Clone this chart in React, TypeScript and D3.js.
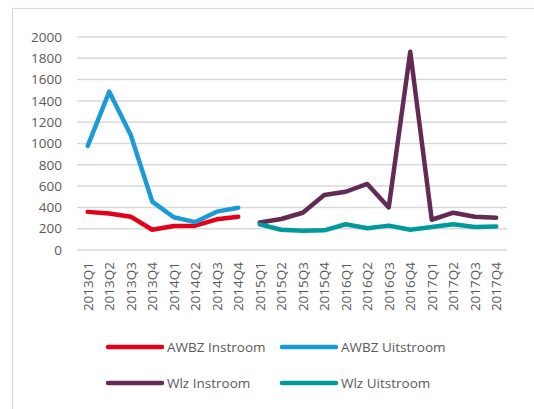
import React, { useEffect, useRef } from 'react';
import * as d3 from 'd3';

const quarters = [
  '2013Q1', '2013Q2', '2013Q3', '2013Q4',
  '2014Q1', '2014Q2', '2014Q3', '2014Q4',
  '2015Q1', '2015Q2', '2015Q3', '2015Q4',
  '2016Q1', '2016Q2', '2016Q3', '2016Q4',
  '2017Q1', '2017Q2', '2017Q3', '2017Q4',
];

// null = no value for that quarter
const awbzInstroom = [358, 342, 313, 190, 225, 228, 288, 313, null, null, null, null, null, null, null, null, null, null, null, null];
const awbzUitstroom = [977, 1487, 1080, 454, 307, 262, 360, 397, null, null, null, null, null, null, null, null, null, null, null, null];
const wlzInstroom = [null, null, null, null, null, null, null, null, 258, 291, 350, 516, 547, 620, 400, 1862, 284, 350, 313, 303];
const wlzUitstroom = [null, null, null, null, null, null, null, null, 240, 190, 180, 185, 242, 205, 229, 190, 216, 242, 215, 220];

const yTicks = [0, 200, 400, 600, 800, 1000, 1200, 1400, 1600, 1800, 2000];

const series = [
  { name: 'AWBZ Instroom', values: awbzInstroom, color: '#e2001a' },
  { name: 'AWBZ Uitstroom', values: awbzUitstroom, color: '#1a9bd7' },
  { name: 'Wlz Instroom', values: wlzInstroom, color: '#622a55' },
  { name: 'Wlz Uitstroom', values: wlzUitstroom, color: '#00999c' },
];

const App = () => {
  const svgRef = useRef<SVGSVGElement>(null);

  useEffect(() => {
    const svg = d3.select(svgRef.current);
    svg.selectAll('*').remove();

    const width = 534;
    const height = 409;
    const font = '"Open Sans", sans-serif';
    const textColor = '#595959';

    svg.attr('width', width).attr('height', height);

    // chart frame (cut off at right and bottom)
    svg.append('rect')
      .attr('x', 12.5).attr('y', 8.5)
      .attr('width', 540).attr('height', 420)
      .attr('fill', 'white')
      .attr('stroke', '#d9d9d9')
      .attr('stroke-width', 1.2);

    const x = d3.scaleBand().domain(quarters).range([77, 507]);
    const y = d3.scaleLinear().domain([0, 2000]).range([250, 37]);

    // gridlines
    svg.append('g')
      .selectAll('line')
      .data(yTicks)
      .enter().append('line')
      .attr('x1', 77).attr('x2', 507)
      .attr('y1', d => y(d)).attr('y2', d => y(d))
      .attr('stroke', '#d9d9d9')
      .attr('stroke-width', 1.5);

    // y labels
    svg.append('g')
      .selectAll('text')
      .data(yTicks)
      .enter().append('text')
      .attr('x', 62)
      .attr('y', d => y(d))
      .attr('dy', '0.35em')
      .attr('text-anchor', 'end')
      .attr('font-family', font)
      .attr('font-size', 13.5)
      .attr('fill', textColor)
      .text(d => d);

    // x labels, rotated
    svg.append('g')
      .selectAll('text')
      .data(quarters)
      .enter().append('text')
      .attr('transform', d => `translate(${x(d)! + x.bandwidth() / 2 + 5},262) rotate(-90)`)
      .attr('text-anchor', 'end')
      .attr('font-family', font)
      .attr('font-size', 13.5)
      .attr('fill', textColor)
      .text(d => d);

    const line = d3.line<number | null>()
      .defined(d => d !== null)
      .x((d, i) => x(quarters[i])! + x.bandwidth() / 2)
      .y(d => y(d as number));

    series.forEach(s => {
      svg.append('path')
        .datum(s.values)
        .attr('d', line)
        .attr('fill', 'none')
        .attr('stroke', s.color)
        .attr('stroke-width', 4.5)
        .attr('stroke-linecap', 'round')
        .attr('stroke-linejoin', 'round');
    });

    // legend
    const legendPos = [
      { x: 108, y: 347 },
      { x: 282, y: 347 },
      { x: 108, y: 383 },
      { x: 282, y: 383 },
    ];
    series.forEach((s, i) => {
      const p = legendPos[i];
      svg.append('line')
        .attr('x1', p.x).attr('x2', p.x + 54)
        .attr('y1', p.y).attr('y2', p.y)
        .attr('stroke', s.color)
        .attr('stroke-width', 4.5)
        .attr('stroke-linecap', 'round');
      svg.append('text')
        .attr('x', p.x + 59)
        .attr('y', p.y)
        .attr('dy', '0.35em')
        .attr('font-family', font)
        .attr('font-size', 13.5)
        .attr('fill', textColor)
        .text(s.name);
    });
  }, []);

  return <svg ref={svgRef} style={{ position: 'absolute', left: 0, top: 0 }}></svg>;
};

export default App;
